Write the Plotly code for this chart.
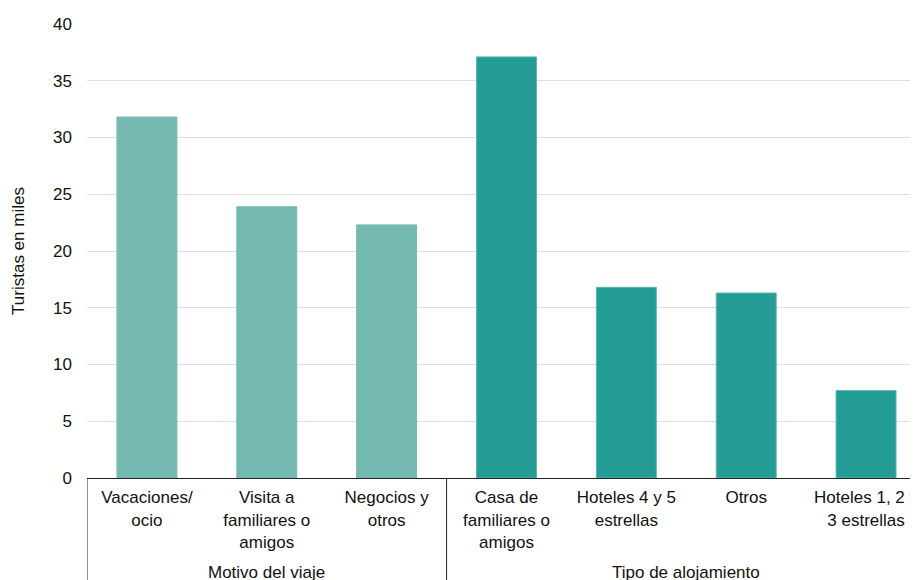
import plotly.graph_objects as go

categories = ["Vacaciones/<br>ocio", "Visita a<br>familiares o<br>amigos", "Negocios y<br>otros",
              "Casa de<br>familiares o<br>amigos", "Hoteles 4 y 5<br>estrellas", "Otros",
              "Hoteles 1, 2 y<br>3 estrellas"]
values = [31.8, 23.9, 22.3, 37.1, 16.8, 16.3, 7.7]
groups = ["Motivo del viaje", "Tipo de alojamiento"]
group_sizes = [3, 4]
group_colors = ["#74B8B2", "#239C96"]
y_ticks = [0, 5, 10, 15, 20, 25, 30, 35, 40]
y_title = "Turistas en miles"

FONT = "Liberation Sans, Arial, sans-serif"
FS = 17

xs = list(range(len(categories)))
colors = []
for g, n in enumerate(group_sizes):
    colors += [group_colors[g]] * n
line_colors = ["#74B8B2"] * group_sizes[0] + ["#5DB5AE"] * group_sizes[1]

fig = go.Figure()
fig.add_trace(go.Bar(x=xs, y=values, width=0.5, marker=dict(color=colors, line=dict(color=line_colors, width=1)),
                     hoverinfo="skip"))

# page body has an 8px margin: figure is 910x572 placed at (8, 8)
M_T, M_B = 16, 102
plot_h = 572 - M_T - M_B
shapes = []
annotations = []
start = 0
for g, n in enumerate(group_sizes):
    left = start - 0.5
    shapes.append(dict(type="line", xref="x", yref="paper", x0=left, x1=left, y0=0, y1=-0.3,
                       line=dict(color="#222222", width=1)))
    center = start + (n - 1) / 2
    annotations.append(dict(text=groups[g], xref="x", yref="paper", x=center, y=-(572 - 478) / plot_h,
                            xanchor="center", yanchor="middle", showarrow=False,
                            font=dict(family=FONT, size=FS, color="#111111")))
    start += n

fig.update_layout(
    width=910, height=572,
    margin=dict(l=79, r=0, t=M_T, b=M_B),
    plot_bgcolor="white", paper_bgcolor="white",
    showlegend=False,
    shapes=shapes, annotations=annotations,
    font=dict(family=FONT, size=FS, color="#111111"),
)
fig.update_xaxes(range=[-0.5, 6.40], tickmode="array", tickvals=xs, ticktext=categories,
                 showline=True, linecolor="#222222", linewidth=1, showgrid=False, ticks="",
                 ticklabeloverflow="allow", ticklabelstandoff=4,
                 tickfont=dict(family=FONT, size=FS, color="#111111"), fixedrange=True)
fig.update_yaxes(range=[0, 40], tickmode="array", tickvals=y_ticks, showgrid=True,
                 gridcolor="#DDDDDD", gridwidth=1, zeroline=False, showline=False, ticks="",
                 ticklabelstandoff=14,
                 title=dict(text=y_title, font=dict(family=FONT, size=FS, color="#111111"), standoff=24),
                 tickfont=dict(family=FONT, size=FS, color="#111111"), fixedrange=True)

fig.write_html("out.html")
